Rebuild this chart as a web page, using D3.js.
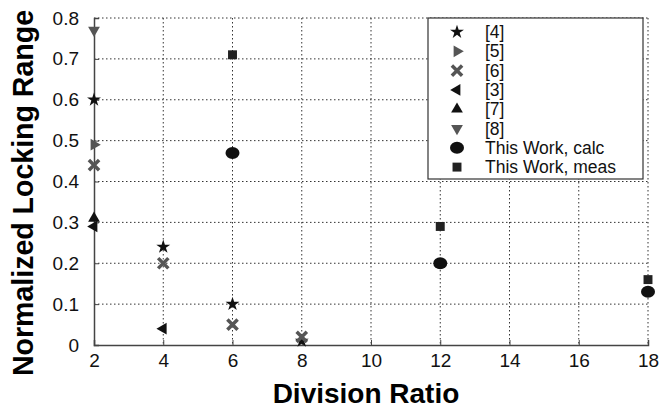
<!DOCTYPE html>
<html>
<head>
<meta charset="utf-8">
<script src="https://cdn.jsdelivr.net/npm/d3@7"></script>
<style>
  body { margin: 0; background: #fff; }
  svg { font-family: "Liberation Sans", Arial, sans-serif; }
</style>
</head>
<body>
<svg width="663" height="411"></svg>
<script>
// data
var xTicks = [2, 4, 6, 8, 10, 12, 14, 16, 18];
var yTicks = [0, 0.1, 0.2, 0.3, 0.4, 0.5, 0.6, 0.7, 0.8];

var ref4 = [[2, 0.60], [4, 0.24], [6, 0.10], [8, 0.01]];
var ref5 = [[2, 0.49]];
var ref6 = [[2, 0.44], [4, 0.20], [6, 0.05], [8, 0.02]];
var ref3 = [[2, 0.29], [4, 0.04]];
var ref7 = [[2, 0.31]];
var ref8 = [[2, 0.77]];
var calc = [[6, 0.47], [12, 0.20], [18, 0.13]];
var meas = [[6, 0.71], [12, 0.29], [18, 0.16]];

var seriesNames = ["[4]", "[5]", "[6]", "[3]", "[7]", "[8]", "This Work, calc", "This Work, meas"];

var svg = d3.select("svg"),
	margin = {top: 18, right: 15, bottom: 66, left: 94},
	width = 663 - margin.left - margin.right,
	height = 411 - margin.top - margin.bottom;

var g = svg.append("g")
	.attr("transform", "translate(" + margin.left + "," + margin.top + ")");

var x = d3.scaleLinear().domain([2, 18]).range([0, width]);
var y = d3.scaleLinear().domain([0, 0.8]).range([height, 0]);

// grid
g.append("g").selectAll("line").data(xTicks.slice(1)).join("line")
	.attr("x1", d => x(d)).attr("x2", d => x(d))
	.attr("y1", 0).attr("y2", height)
	.attr("stroke", "#333").attr("stroke-width", 1)
	.attr("stroke-dasharray", "1.5,2.5");
g.append("g").selectAll("line").data(yTicks.slice(1)).join("line")
	.attr("x1", 0).attr("x2", width)
	.attr("y1", d => y(d)).attr("y2", d => y(d))
	.attr("stroke", "#333").attr("stroke-width", 1)
	.attr("stroke-dasharray", "1.5,2.5");

// axes
var xAxis = g.append("g")
	.attr("transform", "translate(0," + height + ")")
	.call(d3.axisBottom(x).tickValues(xTicks).tickSize(-5).tickPadding(9).tickFormat(d3.format("d")));
var yAxis = g.append("g")
	.call(d3.axisLeft(y).tickValues(yTicks).tickSize(-5).tickPadding(15).tickFormat(d => d === 0 ? "0" : d3.format(".1f")(d)));
[xAxis, yAxis].forEach(function(a) {
	a.select(".domain").attr("stroke", "#444").attr("stroke-width", 1.5);
	a.selectAll(".tick line").attr("stroke", "#444");
	a.selectAll("text").attr("font-size", 19).attr("fill", "#111")
		.attr("font-family", "'Liberation Sans', Arial, sans-serif");
});

// axis titles
svg.append("text")
	.attr("x", margin.left + width / 2 - 5).attr("y", 403)
	.attr("text-anchor", "middle")
	.attr("font-size", 28).attr("font-weight", "bold")
	.text("Division Ratio");
svg.append("text")
	.attr("transform", "translate(33,193) rotate(-90)")
	.attr("text-anchor", "middle")
	.attr("font-size", 29).attr("font-weight", "bold")
	.attr("textLength", 366).attr("lengthAdjust", "spacingAndGlyphs")
	.text("Normalized Locking Range");

// symbols
var black = "#111", gray = "#555";
var tri = d3.symbolTriangle;
var styles = [
	{data: ref4, type: d3.symbolStar, size: 60, rot: 0, color: black},
	{data: ref5, type: tri, size: 60, rot: 90, color: gray},
	{data: ref6, type: d3.symbolX, size: 70, rot: 0, color: gray, stroke: true},
	{data: ref3, type: tri, size: 60, rot: -90, color: black},
	{data: ref7, type: tri, size: 60, rot: 0, color: black},
	{data: ref8, type: tri, size: 60, rot: 180, color: gray},
	{data: calc, type: "ellipse", color: black},
	{data: meas, type: d3.symbolSquare, size: 80, rot: 0, color: "#222"}
];

function drawSymbol(sel, s) {
	if (s.type === "ellipse") {
		sel.append("ellipse").attr("rx", 7).attr("ry", 6).attr("fill", s.color);
	} else if (s.stroke) {
		sel.append("path").attr("d", d3.symbol(d3.symbolX, s.size)())
			.attr("fill", "none").attr("stroke", s.color).attr("stroke-width", 3.5);
	} else {
		sel.append("path").attr("d", d3.symbol(s.type, s.size)())
			.attr("transform", "rotate(" + s.rot + ")")
			.attr("fill", s.color);
	}
}

styles.forEach(function(s) {
	g.append("g").selectAll("g").data(s.data).join("g")
		.attr("transform", d => "translate(" + x(d[0]) + "," + y(d[1]) + ")")
		.each(function() { drawSymbol(d3.select(this), s); });
});

// legend
var legend = svg.append("g").attr("transform", "translate(428,18)");
legend.append("rect")
	.attr("width", 215).attr("height", 161)
	.attr("fill", "#fff").attr("stroke", "#333").attr("stroke-width", 1.2);
styles.forEach(function(s, i) {
	var row = legend.append("g").attr("transform", "translate(29," + (14 + i * 19.3) + ")");
	drawSymbol(row, s);
	row.append("text").attr("x", 28).attr("y", 6)
		.attr("font-size", 17.5).attr("fill", "#111")
		.text(seriesNames[i]);
});
</script>
</body>
</html>
